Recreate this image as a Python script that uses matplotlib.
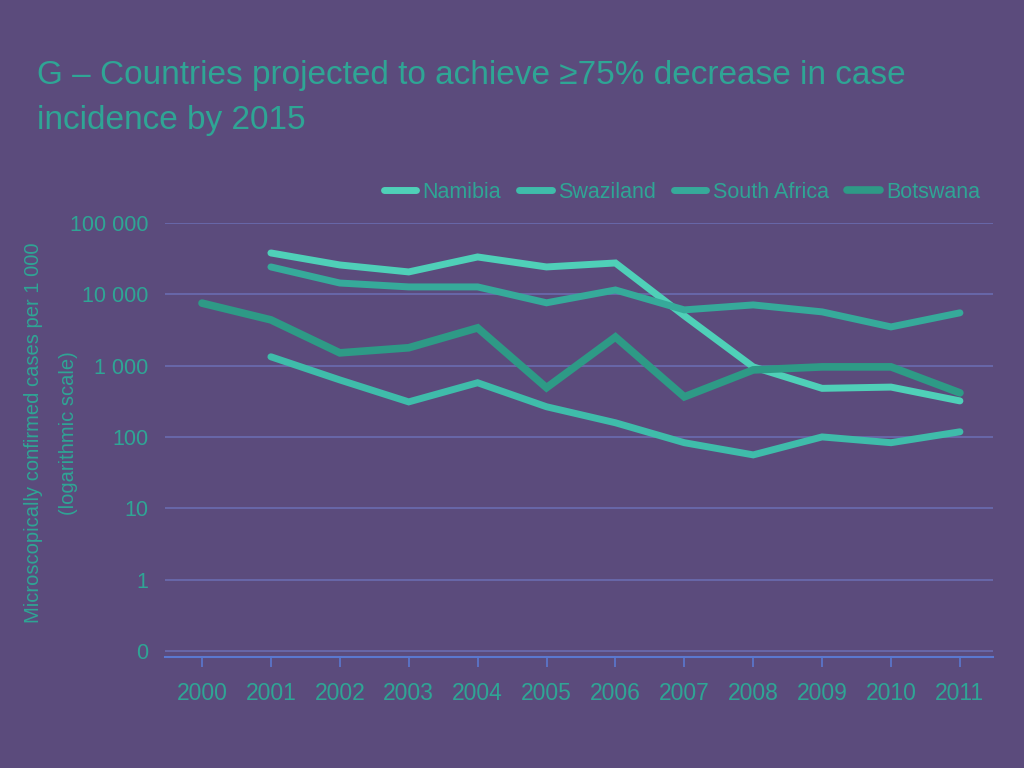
import matplotlib
matplotlib.use("Agg")
import matplotlib.pyplot as plt
from matplotlib.ticker import FixedLocator, FixedFormatter, NullLocator

years = [2000, 2001, 2002, 2003, 2004, 2005, 2006, 2007, 2008, 2009, 2010, 2011]
namibia_years = years[1:]
namibia = [38000, 25800, 20600, 33400, 24200, 27500, 5000, 960, 480, 500, 320]
swaziland_years = years[1:]
swaziland = [1330, 630, 310, 575, 265, 158, 83, 56, 100, 83, 118]
south_africa_years = years[1:]
south_africa = [24200, 14400, 12700, 12700, 7600, 11500, 6050, 7100, 5670, 3490, 5500]
botswana_years = years
botswana = [7520, 4380, 1510, 1780, 3380, 490, 2520, 365, 870, 960, 960, 415]

ytick_values = [0.1, 1, 10, 100, 1000, 10000, 100000]
ytick_labels = ["0", "1", "10", "100", "1 000", "10 000", "100 000"]
xtick_labels = [str(y) for y in years]

title = "G – Countries projected to achieve ≥75% decrease in case\nincidence by 2015"
ylabel = "Microscopically confirmed cases per 1 000\n(logarithmic scale)"

FONT = ["Liberation Sans", "DejaVu Sans"]
plt.rcParams["font.family"] = FONT

BG = "#5b4b7c"
TXT = "#2fa595"
GRID = "#6a6cb0"

fig = plt.figure(figsize=(10.24, 7.68), dpi=100, facecolor=BG)
ax = fig.add_axes([165/1024, 1-657/768, (993-165)/1024, (657-223)/768])
ax.set_facecolor(BG)

series = [
    ("Namibia", namibia_years, namibia, "#4fd0b8", 5),
    ("Swaziland", swaziland_years, swaziland, "#3fbcaa", 5),
    ("South Africa", south_africa_years, south_africa, "#36aa9a", 5),
    ("Botswana", botswana_years, botswana, "#2e9a86", 5.5),
]
for name, xs, ys, col, lw in series:
    ax.plot(xs, ys, color=col, lw=lw, label=name, solid_capstyle="round",
            solid_joinstyle="miter", zorder=3)

ax.set_yscale("log")
ax.set_ylim(0.082, 100000)
ax.set_xlim(1999.463, 2011.48)
ax.yaxis.set_major_locator(FixedLocator(ytick_values))
ax.yaxis.set_major_formatter(FixedFormatter(ytick_labels))
ax.yaxis.set_minor_locator(NullLocator())
ax.set_xticks(years)
ax.set_xticklabels(xtick_labels)

for v in ytick_values:
    ax.axhline(v, color=GRID, lw=1.2, zorder=1)

for s in ["top", "right", "left"]:
    ax.spines[s].set_visible(False)
ax.spines["bottom"].set_color("#5a78d0")
ax.spines["bottom"].set_linewidth(1.5)

ax.tick_params(axis="y", length=0, pad=12, labelsize=15.5, labelcolor=TXT)
ax.tick_params(axis="x", length=7, width=1.2, color="#5a78d0", pad=11,
               labelsize=16.5, labelcolor=TXT)

fig.text(37/1024, 1-60/768, title, ha="left", va="top", fontsize=24,
         color=TXT, linespacing=1.6)

fig.text(51/1024, 1-433/768, ylabel, rotation=90, ha="center", va="center",
         fontsize=14.5, color=TXT, linespacing=2.0, multialignment="center")

leg = fig.legend(loc="center right", bbox_to_anchor=(980/1024, 1-192/768),
                 ncol=4, frameon=False, fontsize=15.5, handlelength=1.5,
                 columnspacing=0.85, handletextpad=0.3,
                 borderaxespad=0, borderpad=0)
for t in leg.get_texts():
    t.set_color(TXT)

fig.savefig("out.png", dpi=100, facecolor=BG)
